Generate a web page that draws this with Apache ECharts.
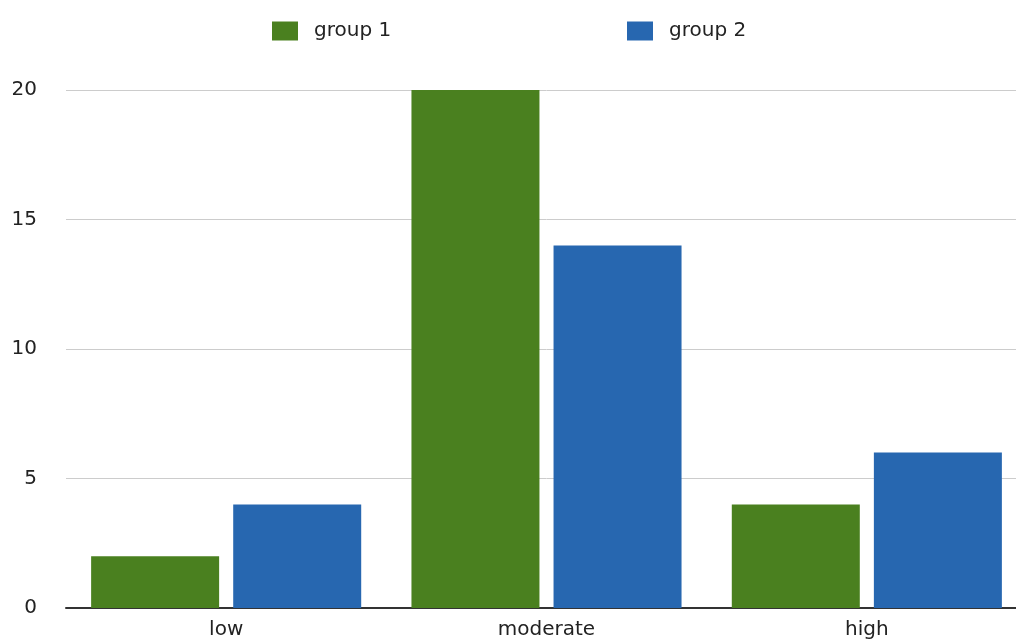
<!DOCTYPE html>
<html>
<head>
<meta charset="utf-8">
<script src="https://cdn.jsdelivr.net/npm/echarts@6/dist/echarts.min.js"></script>
<style>
html,body{margin:0;padding:0;background:#fff;overflow:hidden;width:1016px;height:640px;}
#c{width:1027px;height:640px;}
</style>
</head>
<body>
<div id="c"></div>
<script>
var categories = ['low', 'moderate', 'high'];
var group1 = [2, 20, 4];
var group2 = [4, 14, 6];
var seriesNames = ['group 1', 'group 2'];
var yTicks = { min: 0, max: 20, interval: 5 };

var font = 'DejaVu Sans';
var chart = echarts.init(document.getElementById('c'), null, { renderer: 'canvas' });
chart.setOption({
  animation: false,
  color: ['#4a801f', '#2767b0'],
  legend: [
    { data: [seriesNames[0]], left: 267, top: 16, itemWidth: 26, itemHeight: 19, itemGap: 0,
      icon: 'rect', textStyle: { fontFamily: font, fontSize: 20, color: '#222', padding: [0, 0, 0, 11] } },
    { data: [seriesNames[1]], left: 622, top: 16, itemWidth: 26, itemHeight: 19, itemGap: 0,
      icon: 'rect', textStyle: { fontFamily: font, fontSize: 20, color: '#222', padding: [0, 0, 0, 11] } }
  ],
  grid: { left: 66, right: 0, top: 90, bottom: 31, containLabel: false },
  xAxis: {
    type: 'category',
    data: categories,
    axisLine: { show: true, lineStyle: { color: '#333', width: 2 } },
    axisTick: { show: false },
    axisLabel: { fontFamily: font, fontSize: 20, color: '#222', margin: 12 }
  },
  yAxis: {
    type: 'value',
    min: yTicks.min, max: yTicks.max, interval: yTicks.interval,
    axisLine: { show: false },
    axisTick: { show: false },
    splitLine: { lineStyle: { color: '#cccccc', width: 1 } },
    axisLabel: { fontFamily: font, fontSize: 20, color: '#222', margin: 29 }
  },
  series: [
    { name: seriesNames[0], type: 'bar', data: group1, barWidth: 128, barGap: '11%' },
    { name: seriesNames[1], type: 'bar', data: group2, barWidth: 128, barGap: '11%' }
  ]
});
</script>
</body>
</html>
